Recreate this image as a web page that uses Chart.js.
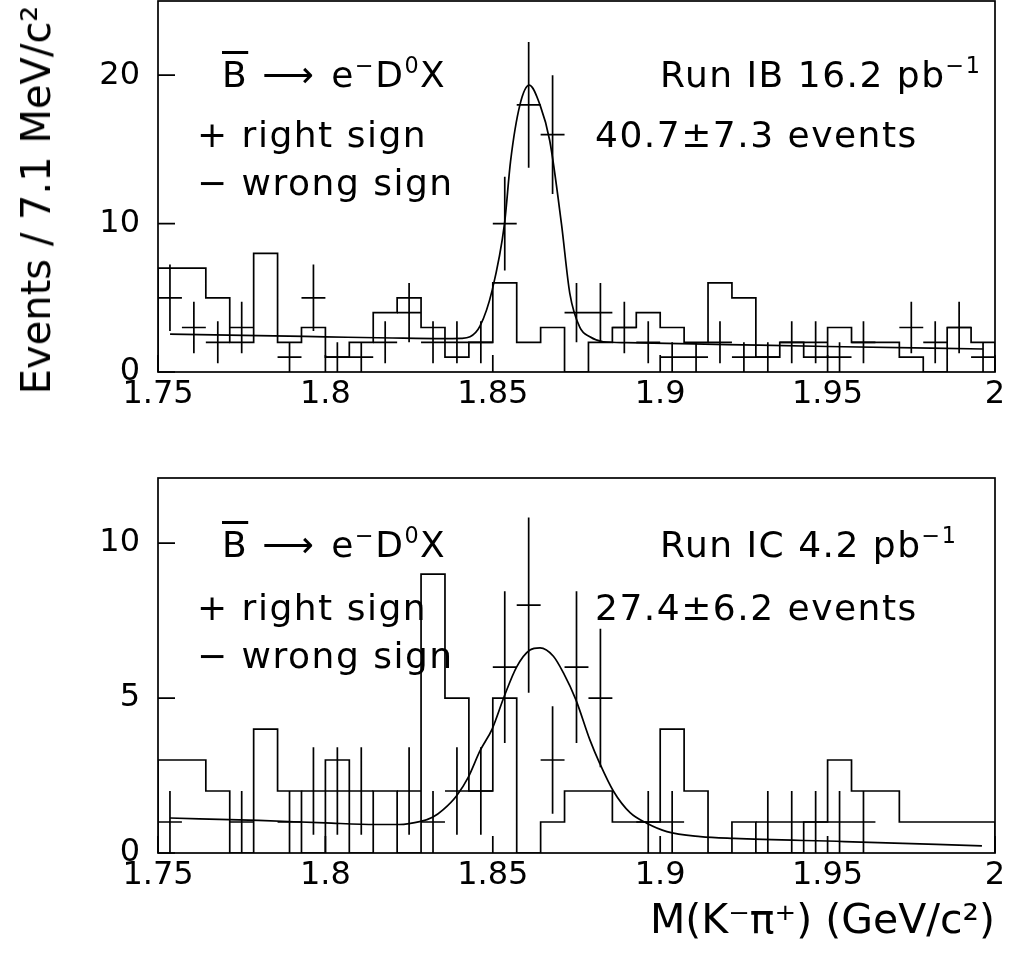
<!DOCTYPE html>
<html>
<head>
<meta charset="utf-8">
<script src="https://cdn.jsdelivr.net/npm/chart.js@4.4.0/dist/chart.umd.min.js"></script>
<style>
  body { margin: 0; background: #fff; width: 1010px; height: 957px; position: relative; overflow: hidden; font-family: "DejaVu Sans", sans-serif; }
  canvas { position: absolute; left: 0; }
  #runB { top: 0; }
  #runC { top: 440px; }
  .lbl { position: absolute; font-size: 36px; line-height: 1; white-space: nowrap; color: #000; letter-spacing: 1.5px; }
  .lbl sup { font-size: 62%; vertical-align: 0.62em; line-height: 0; }
  .ob { text-decoration: overline; }
  .arr { margin: 0 16px 0 14px; }
  #ytitle { position: absolute; left: 36px; top: 200px; font-size: 40px; line-height: 1; white-space: nowrap;
            transform: translate(-50%, -50%) rotate(-90deg); color: #000; }
</style>
</head>
<body>
<canvas id="runB" width="1010" height="440"></canvas>
<canvas id="runC" width="1010" height="517"></canvas>

<div id="ytitle">Events / 7.1 MeV/c²</div>

<div class="lbl" style="left:222px; top:57px"><span class="ob">B</span><span class="arr">⟶</span>e<sup>−</sup>D<sup>0</sup>X</div>
<div class="lbl" style="left:660px; top:57px">Run IB 16.2 pb<sup>−1</sup></div>
<div class="lbl" style="left:197px; top:117px">+ right sign</div>
<div class="lbl" style="left:197px; top:165px">− wrong sign</div>
<div class="lbl" style="left:595px; top:117px">40.7±7.3 events</div>

<div class="lbl" style="left:222px; top:527px"><span class="ob">B</span><span class="arr">⟶</span>e<sup>−</sup>D<sup>0</sup>X</div>
<div class="lbl" style="left:660px; top:527px">Run IC 4.2 pb<sup>−1</sup></div>
<div class="lbl" style="left:197px; top:590px">+ right sign</div>
<div class="lbl" style="left:197px; top:638px">− wrong sign</div>
<div class="lbl" style="left:595px; top:590px">27.4±6.2 events</div>

<script>
// binning: 35 bins of 7.1 MeV between 1.75 and 2 GeV
const nBins = 35;
const xLo = 1.75, xHi = 2.0;

// Run IB counts per bin
const rightB = [5,3,2,3,0,1,5,1,1,2,4,2,2,2,10,18,16,4,4,3,2,1,1,2,1,1,2,2,1,2,0,3,2,3,1];
const wrongB = [7,7,5,2,8,2,3,1,2,4,5,3,1,2,6,2,3,0,2,3,4,3,2,6,5,1,2,1,3,2,2,1,0,3,2];
// Run IC counts per bin
const rightC = [1,0,0,1,0,1,2,2,2,0,2,1,2,2,6,8,3,6,5,0,1,1,0,0,0,1,1,1,1,1,0,0,0,0,0];
const wrongC = [3,3,2,0,4,2,0,3,0,2,0,9,5,2,5,0,1,2,2,1,1,4,2,0,1,0,0,1,3,2,2,1,1,1,1];

// fitted curves
const fitBx = [1.7536,1.78,1.80,1.82,1.835,1.8405,1.8432,1.8462,1.8498,1.8535,1.8553,1.8581,1.8609,1.8641,1.8670,1.8705,1.8730,1.8760,1.8790,1.8830,1.89,1.92,1.95,1.9964];
const fitBy = [2.55,2.45,2.37,2.29,2.25,2.27,2.37,3.1,5.5,10.0,14.2,18.0,19.33,18.0,15.6,10.0,5.3,3.0,2.37,2.04,1.98,1.85,1.72,1.55];
const fitCx = [1.7536,1.78,1.80,1.815,1.822,1.8285,1.832,1.8352,1.8392,1.8427,1.8462,1.8498,1.8534,1.8571,1.8611,1.8641,1.8681,1.8711,1.8748,1.879,1.8819,1.886,1.891,1.896,1.902,1.912,1.922,1.955,1.9961];
const fitCy = [1.13,1.05,0.97,0.92,0.92,1.02,1.15,1.4,1.85,2.45,3.3,4.0,5.05,6.0,6.55,6.62,6.35,5.81,4.95,3.65,2.9,2.0,1.3,0.96,0.69,0.53,0.47,0.37,0.23];

// ticks
const xTicks = [1.75, 1.8, 1.85, 1.9, 1.95, 2];
const xTickLabels = ['1.75', '1.8', '1.85', '1.9', '1.95', '2'];
const yTicksB = [0, 10, 20];
const yTicksC = [0, 5, 10];

const binW = (xHi - xLo) / nBins;
const edges = [];
for (let i = 0; i <= nBins; i++) edges.push(xLo + i * binW);

function histLine(counts) {
  const pts = [{ x: edges[0], y: 0 }];
  counts.forEach((c, i) => pts.push({ x: edges[i], y: c }));
  pts.push({ x: edges[nBins], y: counts[nBins - 1] });
  pts.push({ x: edges[nBins], y: 0 });
  return pts;
}
function centers(counts) {
  return counts.map((c, i) => ({ x: (edges[i] + edges[i + 1]) / 2, y: c }));
}
function curve(xs, ys) {
  return xs.map((x, i) => ({ x: x, y: ys[i] }));
}

// draws the frame, inner tick marks and sqrt(N) error crosses
const hepPlugin = {
  id: 'hep',
  afterDatasetsDraw(chart) {
    const { ctx, chartArea: a, scales: { x, y } } = chart;
    ctx.save();
    ctx.strokeStyle = '#000';
    ctx.lineWidth = 1.7;
    ctx.beginPath();
    // crosses
    const meta = chart.getDatasetMeta(2);
    const half = (x.getPixelForValue(xLo + binW) - x.getPixelForValue(xLo)) / 2;
    meta.data.forEach((pt, i) => {
      const v = chart.data.datasets[2].data[i].y;
      if (!v) return;
      const err = Math.sqrt(v);
      const yTop = Math.max(a.top, y.getPixelForValue(v + err));
      const yBot = Math.min(a.bottom, y.getPixelForValue(v - err));
      ctx.moveTo(pt.x - half, pt.y); ctx.lineTo(pt.x + half, pt.y);
      ctx.moveTo(pt.x, yTop); ctx.lineTo(pt.x, yBot);
    });
    // tick marks inside the frame
    x.ticks.forEach(t => {
      const px = x.getPixelForValue(t.value);
      ctx.moveTo(px, a.bottom); ctx.lineTo(px, a.bottom - 17);
    });
    y.ticks.forEach(t => {
      const py = y.getPixelForValue(t.value);
      ctx.moveTo(a.left, py); ctx.lineTo(a.left + 17, py);
    });
    ctx.stroke();
    ctx.strokeRect(a.left, a.top, a.width, a.height);
    ctx.restore();
  }
};

const font = { family: '"DejaVu Sans", sans-serif', size: 32 };

function makeChart(id, right, wrong, fx, fy, yMax, yTicks, opts) {
  return new Chart(document.getElementById(id), {
    type: 'scatter',
    data: {
      datasets: [
        { data: histLine(wrong), showLine: true, stepped: true, borderColor: '#000', borderWidth: 1.7, pointRadius: 0 },
        { data: curve(fx, fy), showLine: true, cubicInterpolationMode: 'monotone', borderColor: '#000', borderWidth: 1.7, pointRadius: 0 },
        { data: centers(right), showLine: false, pointRadius: 0, borderColor: '#000' }
      ]
    },
    options: {
      responsive: false,
      animation: false,
      layout: { padding: { top: opts.top, right: 15, left: 0, bottom: 0 } },
      plugins: { legend: { display: false }, tooltip: { enabled: false } },
      scales: {
        x: {
          type: 'linear', min: xLo, max: xHi,
          afterBuildTicks: s => { s.ticks = xTicks.map(v => ({ value: v })); },
          afterFit: s => { s.height = opts.xHeight; s.paddingLeft = 0; s.paddingRight = 0; },
          grid: { display: false, drawTicks: false },
          border: { display: false },
          ticks: { font: font, color: '#000', padding: 3, maxRotation: 0, autoSkip: false,
                   callback: (v, i) => xTickLabels[i] },
          title: opts.xTitle
        },
        y: {
          type: 'linear', min: 0, max: yMax,
          afterBuildTicks: s => { s.ticks = yTicks.map(v => ({ value: v })); },
          afterFit: s => { s.width = 158; s.paddingTop = 0; s.paddingBottom = 0; },
          grid: { display: false, drawTicks: false },
          border: { display: false },
          ticks: { font: font, color: '#000', padding: 18, callback: (v, i) => String(yTicks[i]) }
        }
      }
    },
    plugins: [hepPlugin]
  });
}

makeChart('runB', rightB, wrongB, fitBx, fitBy, 25, yTicksB, {
  top: 1, xHeight: 68,
  xTitle: { display: false }
});
makeChart('runC', rightC, wrongC, fitCx, fitCy, 12.1, yTicksC, {
  top: 38, xHeight: 104,
  xTitle: { display: true, text: 'M(K⁻π⁺) (GeV/c²)', align: 'end', color: '#000',
            font: { family: '"DejaVu Sans", sans-serif', size: 41 }, padding: { bottom: 10 } }
});
</script>
</body>
</html>
